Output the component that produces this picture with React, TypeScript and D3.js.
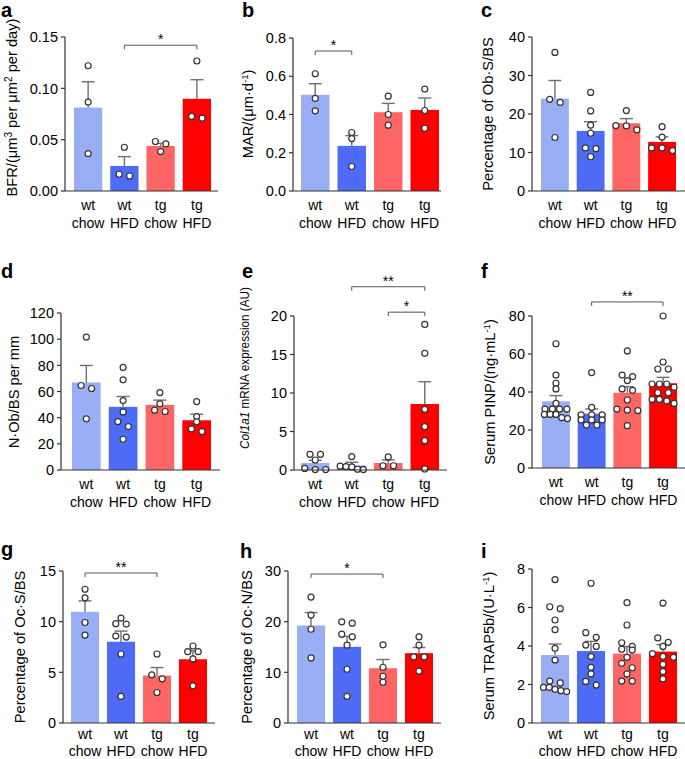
import React from 'react';
import * as d3 from 'd3';

const FONT = '"Liberation Sans", Arial, Helvetica, sans-serif';

// ---------- shared categories ----------
const genotypeLabels = ['wt', 'wt', 'tg', 'tg'];
const dietLabels = ['chow', 'HFD', 'chow', 'HFD'];
const barColors = ['#9AAEF5', '#4E6BF6', '#FE6565', '#FE0000'];

// ---------- a: BFR ----------
const bfrMean = [0.0813, 0.0244, 0.0439, 0.0898];
const bfrSem = [0.0251, 0.0091, 0.0025, 0.0186];
const bfrPoints = [[0.122, 0.0866, 0.0364], [0.0426, 0.0146, 0.0163], [0.0482, 0.0459, 0.0384], [0.1266, 0.0709, 0.0726]];
const bfrTicks = [0, 0.05, 0.1, 0.15];
const bfrTickLabels = ['0.00', '0.05', '0.10', '0.15'];

// ---------- b: MAR ----------
const marMean = [0.503, 0.236, 0.412, 0.424];
const marSem = [0.058, 0.054, 0.046, 0.062];
const marPoints = [[0.613, 0.484, 0.419], [0.306, 0.274, 0.128], [0.496, 0.4, 0.344], [0.533, 0.421, 0.328]];
const marTicks = [0, 0.2, 0.4, 0.6, 0.8];
const marTickLabels = ['0.0', '0.2', '0.4', '0.6', '0.8'];

// ---------- c: Ob.S/BS ----------
const obsMean = [24.0, 15.6, 17.6, 12.75];
const obsSem = [4.7, 2.4, 1.2, 1.3];
const obsPoints = [[36.0, 23.8, 23.0, 13.9], [25.6, 20.8, 17.1, 15.0, 11.2, 11.0, 8.9], [20.9, 17.0, 16.9, 15.9], [16.7, 14.0, 10.5, 11.2, 11.2]];
const obsTicks = [0, 10, 20, 30, 40];

// ---------- d: N.Ob/BS ----------
const nobMean = [66.9, 48.3, 49.8, 38.0];
const nobSem = [13.0, 7.9, 3.6, 4.6];
const nobPoints = [[101.6, 64.6, 62.3, 39.1], [78.4, 68.9, 53.1, 44.4, 37.0, 33.2, 23.5], [59.2, 50.6, 44.7, 45.7], [52.3, 40.8, 36.8, 29.4, 31.4]];
const nobTicks = [0, 20, 40, 60, 80, 100, 120];

// ---------- e: Col1a1 ----------
const colMean = [0.91, 0.56, 0.91, 8.57];
const colSem = [0.35, 0.44, 0.39, 2.9];
const colPoints = [[2.04, 2.04, 1.3, 0.2, 0.05, 0.05], [1.75, 0.5, 0.45, 0.4, 0.1, 0.05], [1.7, 0.55, 0.55], [18.9, 15.15, 7.88, 5.63, 3.81, 0.13]];
const colTicks = [0, 5, 10, 15, 20];

// ---------- f: PINP ----------
const pinpMean = [35.1, 28.6, 39.6, 44.6];
const pinpSem = [3.0, 2.5, 3.2, 3.1];
const pinpPoints = [
  [65.4, 48.9, 44.6, 41.6, 34.0, 31.0, 31.0, 31.0, 31.0, 28.2, 28.2, 28.2, 26.5, 26.0],
  [50.2, 31.9, 28.0, 28.0, 28.0, 25.3, 25.3, 25.3, 22.6, 22.6],
  [61.6, 48.9, 48.1, 46.0, 41.6, 40.9, 35.8, 31.0, 30.5, 30.2, 22.3],
  [80.0, 55.8, 52.1, 52.1, 44.2, 44.2, 44.2, 42.5, 39.6, 39.6, 36.1, 36.1, 35.3, 34.0],
];
const pinpTicks = [0, 20, 40, 60, 80];

// ---------- g: Oc.S/BS ----------
const ocsMean = [10.97, 8.02, 4.68, 6.29];
const ocsSem = [1.08, 1.05, 0.79, 0.82];
const ocsPoints = [[13.2, 12.35, 9.92, 8.68], [10.35, 9.8, 9.76, 8.58, 8.48, 6.81, 2.62], [6.81, 4.75, 4.36, 3.01], [7.6, 7.04, 7.04, 6.32, 3.67]];
const ocsTicks = [0, 5, 10, 15];

// ---------- h: Oc.N/BS ----------
const ocnMean = [19.25, 15.03, 10.81, 13.78];
const ocnSem = [2.55, 2.07, 1.72, 1.12];
const ocnPoints = [[24.85, 21.3, 18.5, 12.85], [19.97, 19.71, 17.53, 17.0, 15.36, 10.61, 5.27], [15.43, 11.0, 9.23, 8.04], [17.0, 15.36, 13.05, 13.05, 10.22]];
const ocnTicks = [0, 10, 20, 30];

// ---------- i: TRAP5b ----------
const trapMean = [3.53, 3.74, 3.6, 3.71];
const trapSem = [0.57, 0.5, 0.37, 0.36];
const trapPoints = [
  [7.45, 6.04, 5.94, 5.35, 4.85, 3.88, 3.27, 2.18, 2.08, 1.85, 1.85, 1.75, 1.68, 1.63],
  [7.26, 4.69, 4.45, 4.05, 3.98, 3.45, 2.89, 2.55, 2.16, 1.97],
  [6.25, 5.09, 4.17, 3.98, 3.83, 3.79, 3.41, 3.1, 2.87, 2.55, 2.18, 2.18],
  [6.23, 4.42, 4.19, 3.98, 3.6, 3.46, 3.41, 3.05, 2.67, 2.29],
];
const trapTicks = [0, 2, 4, 6, 8];

// ---------- significance ----------
const sigPanel = ['a', 'b', 'e', 'e', 'f', 'g', 'h'];
const sigFrom = [1, 0, 1, 2, 1, 0, 0];
const sigTo = [3, 1, 3, 3, 3, 2, 2];
const sigLevel = [0.142, 0.732, 23.8, 20.5, 87.4, 14.8, 29.4];
const sigText = ['*', '*', '**', '*', '**', '**', '*'];

// ---------- layout (pixels) ----------
const layout: Record<string, any> = {
  a: { axisX: 65, barStart: 74, barEnd: 211, yTop: 37, yZero: 191, axisEnd: 218, lx: 1, ly: 17, tx: 17, ty: 107.5, tl: 178, l1: 18.5, l2: 37 },
  b: { axisX: 293, barStart: 301, barEnd: 439, yTop: 38, yZero: 191, axisEnd: 441, lx: 242, ly: 17, tx: 253, ty: 114, l1: 18.5, l2: 37 },
  c: { axisX: 532, barStart: 541, barEnd: 676, yTop: 37, yZero: 191, axisEnd: 685, lx: 481, ly: 17, tx: 493, ty: 114, l1: 18.5, l2: 37 },
  d: { axisX: 61, barStart: 72, barEnd: 211, yTop: 313, yZero: 470, axisEnd: 220, lx: 1, ly: 278, tx: 19, ty: 392, l1: 19, l2: 36.5 },
  e: { axisX: 294, barStart: 301, barEnd: 439, yTop: 316, yZero: 470, axisEnd: 447, lx: 242, ly: 278, tx: 249, ty: 368, tl: 162, l1: 19, l2: 36.5 },
  f: { axisX: 532, barStart: 542, barEnd: 677, yTop: 316, yZero: 468, axisEnd: 685, lx: 481, ly: 278, tx: 495, ty: 392, l1: 19, l2: 36.5 },
  g: { axisX: 63, barStart: 71, barEnd: 207, yTop: 571, yZero: 723, axisEnd: 215, lx: 1, ly: 556, tx: 25, ty: 647, l1: 16, l2: 33 },
  h: { axisX: 288, barStart: 297, barEnd: 433, yTop: 571, yZero: 723, axisEnd: 441, lx: 240, ly: 558, tx: 252, ty: 647, l1: 16, l2: 33 },
  i: { axisX: 532, barStart: 541, barEnd: 677, yTop: 569, yZero: 723, axisEnd: 685, lx: 481, ly: 558, tx: 494, ty: 646, l1: 16, l2: 33 },
};

const panels = [
  { id: 'a', mean: bfrMean, sem: bfrSem, points: bfrPoints, ticks: bfrTicks, tickLabels: bfrTickLabels },
  { id: 'b', mean: marMean, sem: marSem, points: marPoints, ticks: marTicks, tickLabels: marTickLabels },
  { id: 'c', mean: obsMean, sem: obsSem, points: obsPoints, ticks: obsTicks },
  { id: 'd', mean: nobMean, sem: nobSem, points: nobPoints, ticks: nobTicks },
  { id: 'e', mean: colMean, sem: colSem, points: colPoints, ticks: colTicks },
  { id: 'f', mean: pinpMean, sem: pinpSem, points: pinpPoints, ticks: pinpTicks },
  { id: 'g', mean: ocsMean, sem: ocsSem, points: ocsPoints, ticks: ocsTicks },
  { id: 'h', mean: ocnMean, sem: ocnSem, points: ocnPoints, ticks: ocnTicks },
  { id: 'i', mean: trapMean, sem: trapSem, points: trapPoints, ticks: trapTicks },
];

function Title({ id }: { id: string }) {
  switch (id) {
    case 'a':
      return (<>BFR/(μm<tspan dy={-5.5} fontSize={10}>3</tspan><tspan dy={5.5}> per μm</tspan><tspan dy={-5.5} fontSize={10}>2</tspan><tspan dy={5.5}> per day)</tspan></>);
    case 'b':
      return (<>MAR/(μm·d<tspan dy={-5.5} fontSize={9.5}>-1</tspan><tspan dy={5.5}>)</tspan></>);
    case 'c':
      return <>Percentage of Ob·S/BS</>;
    case 'd':
      return <>N·Ob/BS per mm</>;
    case 'e':
      return (<><tspan fontStyle="italic">Col1a1</tspan> mRNA expression (AU)</>);
    case 'f':
      return (<>Serum PINP/(ng·mL<tspan dy={-5.5} fontSize={9.5}>-1</tspan><tspan dy={5.5}>)</tspan></>);
    case 'g':
      return <>Percentage of Oc·S/BS</>;
    case 'h':
      return <>Percentage of Oc·N/BS</>;
    case 'i':
      return (<>Serum TRAP5b/(U·L<tspan dy={-5.5} fontSize={9.5}>-1</tspan><tspan dy={5.5}>)</tspan></>);
  }
  return null;
}

function swarm(vals: number[], y: (v: number) => number) {
  const sorted = vals.map((v) => ({ v, py: y(v) })).sort((a, b) => a.py - b.py);
  const rows: { v: number; py: number }[][] = [];
  let cur: { v: number; py: number }[] = [];
  for (const p of sorted) {
    if (cur.length && p.py - cur[0].py > 5) {
      rows.push(cur);
      cur = [];
    }
    cur.push(p);
  }
  if (cur.length) rows.push(cur);
  const out: { v: number; py: number; dx: number }[] = [];
  for (const r of rows) {
    const k = r.length;
    const sp = k === 1 ? 0 : k <= 3 ? 10.5 : Math.max(5.8, 22 / (k - 1));
    r.forEach((p, i) => out.push({ ...p, dx: (i - (k - 1) / 2) * sp }));
  }
  return out;
}

const AXIS = '#333';
const ERR = '#6f6f6f';

function Panel({ d }: { d: any }) {
  const L = layout[d.id];
  const x = d3.scaleBand<number>().domain([0, 1, 2, 3]).range([L.barStart, L.barEnd]).paddingInner(0.22).paddingOuter(0);
  const max = d.ticks[d.ticks.length - 1];
  const y = d3.scaleLinear().domain([0, max]).range([L.yZero, L.yTop]);
  const bw = x.bandwidth();
  const sigs = sigPanel.map((p, k) => ({ p, k })).filter((s) => s.p === d.id);
  const titleProps: any = L.tl
    ? { textLength: L.tl, lengthAdjust: 'spacingAndGlyphs', fontSize: d.id === 'e' ? 13.5 : 14.5 }
    : { fontSize: 14.7 };
  return (
    <g>
      <text x={L.lx} y={L.ly} fontSize={20} fontWeight="bold" fontFamily={FONT}>{d.id}</text>
      <text transform={`translate(${L.tx},${L.ty}) rotate(-90)`} textAnchor="middle" fontFamily={FONT} {...titleProps}>
        <Title id={d.id} />
      </text>
      {d.mean.map((m: number, i: number) => (
        <rect key={'b' + i} x={x(i)} y={y(m)} width={bw} height={L.yZero - y(m)} fill={barColors[i]} />
      ))}
      {d.mean.map((m: number, i: number) => {
        const cx = (x(i) as number) + bw / 2;
        const yt = y(m + d.sem[i]);
        return (
          <g key={'e' + i} stroke={ERR} strokeWidth={1.4}>
            <line x1={cx} x2={cx} y1={y(m)} y2={yt} />
            <line x1={cx - 6.5} x2={cx + 6.5} y1={yt} y2={yt} />
          </g>
        );
      })}
      {d.points.map((pts: number[], i: number) => {
        const cx = (x(i) as number) + bw / 2;
        return swarm(pts, y).map((p, j) => (
          <circle key={'p' + i + '_' + j} cx={cx + p.dx} cy={p.py} r={3} fill="#fff" stroke="#333" strokeWidth={1.2} />
        ));
      })}
      <line x1={L.axisX} x2={L.axisX} y1={L.yZero} y2={L.yTop} stroke={AXIS} strokeWidth={1.2} />
      <line x1={L.axisX} x2={L.axisEnd} y1={L.yZero} y2={L.yZero} stroke={AXIS} strokeWidth={1.2} />
      {d.ticks.map((t: number, k: number) => (
        <g key={'t' + k}>
          <line x1={L.axisX - 4} x2={L.axisX} y1={y(t)} y2={y(t)} stroke={AXIS} strokeWidth={1.2} />
          <text x={L.axisX - 7} y={y(t)} dy="0.36em" textAnchor="end" fontSize={14.5} fontFamily={FONT}>
            {d.tickLabels ? d.tickLabels[k] : String(t)}
          </text>
        </g>
      ))}
      {genotypeLabels.map((g, i) => {
        const cx = (x(i) as number) + bw / 2;
        return (
          <g key={'c' + i} fontSize={14} fontFamily={FONT} textAnchor="middle">
            <text x={cx} y={L.yZero + L.l1}>{g}</text>
            <text x={cx} y={L.yZero + L.l2}>{dietLabels[i]}</text>
          </g>
        );
      })}
      {sigs.map(({ k }) => {
        const x1 = (x(sigFrom[k]) as number) + bw / 2;
        const x2 = (x(sigTo[k]) as number) + bw / 2;
        const yb = y(sigLevel[k]);
        return (
          <g key={'s' + k}>
            <path d={`M${x1},${yb + 4}V${yb}H${x2}V${yb + 4}`} fill="none" stroke="#555" strokeWidth={1} />
            <text x={(x1 + x2) / 2} y={yb - 1} textAnchor="middle" fontSize={14} fontFamily={FONT}>{sigText[k]}</text>
          </g>
        );
      })}
    </g>
  );
}

export default function App() {
  return (
    <svg width={685} height={759} style={{ position: 'absolute', left: 0, top: 0, background: '#fff' }}>
      <rect width={685} height={759} fill="#fff" />
      {panels.map((p) => (
        <Panel key={p.id} d={p} />
      ))}
    </svg>
  );
}
